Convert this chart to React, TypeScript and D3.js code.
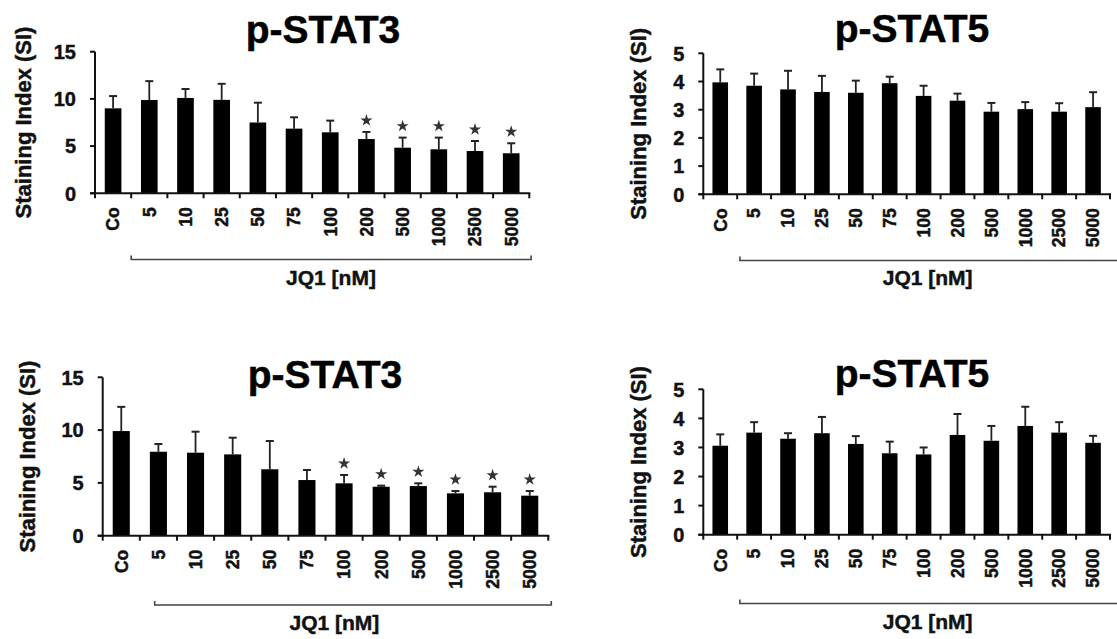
import React from "react";
import * as d3 from "d3";

// ---------- data ----------
const categories = ["Co", "5", "10", "25", "50", "75", "100", "200", "500", "1000", "2500", "5000"];

const stat3TopMean = [9.0, 9.88, 10.1, 9.9, 7.5, 6.85, 6.46, 5.75, 4.83, 4.66, 4.48, 4.24];
const stat3TopErr = [1.3, 2.0, 0.95, 1.7, 2.1, 1.2, 1.24, 0.75, 1.07, 1.24, 1.06, 1.06];
const stat3TopStars = ["200", "500", "1000", "2500", "5000"];

const stat5TopMean = [3.97, 3.85, 3.72, 3.63, 3.6, 3.94, 3.49, 3.32, 2.93, 3.02, 2.93, 3.09];
const stat5TopErr = [0.46, 0.43, 0.66, 0.57, 0.43, 0.23, 0.36, 0.25, 0.31, 0.25, 0.3, 0.53];
const stat5TopStars: string[] = [];

const stat3BotMean = [9.91, 7.95, 7.86, 7.7, 6.29, 5.27, 4.96, 4.64, 4.7, 4.01, 4.11, 3.79];
const stat3BotErr = [2.29, 0.73, 1.99, 1.58, 2.68, 0.95, 0.79, 0.1, 0.26, 0.22, 0.53, 0.44];
const stat3BotStars = ["100", "200", "500", "1000", "2500", "5000"];

const stat5BotMean = [3.06, 3.51, 3.3, 3.49, 3.12, 2.8, 2.76, 3.43, 3.23, 3.74, 3.51, 3.16];
const stat5BotErr = [0.39, 0.36, 0.19, 0.56, 0.27, 0.4, 0.24, 0.72, 0.51, 0.66, 0.36, 0.24];
const stat5BotStars: string[] = [];

const stat3Ticks = [0, 5, 10, 15];
const stat5Ticks = [0, 1, 2, 3, 4, 5];

const yAxisTitle = "Staining Index (SI)";
const xAxisTitle = "JQ1 [nM]";

// ---------- layout ----------
const W = 1117;
const H = 639;
const FONT = "'Liberation Sans', Arial, Helvetica, sans-serif";

type Layout = {
  x0: number; x1: number; yTop: number; yZero: number;
  titleX: number; titleY: number; ylabX: number;
  brStart: number; brEnd: number; brY: number; jqX: number; jqY: number;
};

const panels = [
  {
    title: "p-STAT3", mean: stat3TopMean, err: stat3TopErr, stars: stat3TopStars, ticks: stat3Ticks,
    L: { x0: 95, x1: 529.3, yTop: 51.7, yZero: 193.3, titleX: 323, titleY: 43, ylabX: 23,
      brStart: 1.0, brEnd: 12.05, brY: 259.5, jqX: 6.52, jqY: 285 } as Layout,
  },
  {
    title: "p-STAT5", mean: stat5TopMean, err: stat5TopErr, stars: stat5TopStars, ticks: stat5Ticks,
    L: { x0: 703.3, x1: 1110, yTop: 53.3, yZero: 194.3, titleX: 912, titleY: 42, ylabX: 638,
      brStart: 1.08, brEnd: 12.5, brY: 260.5, jqX: 6.62, jqY: 285 } as Layout,
  },
  {
    title: "p-STAT3", mean: stat3BotMean, err: stat3BotErr, stars: stat3BotStars, ticks: stat3Ticks,
    L: { x0: 102.7, x1: 548.3, yTop: 377.3, yZero: 535.7, titleX: 325, titleY: 388, ylabX: 27,
      brStart: 1.4, brEnd: 12.08, brY: 605, jqX: 6.24, jqY: 630 } as Layout,
  },
  {
    title: "p-STAT5", mean: stat5BotMean, err: stat5BotErr, stars: stat5BotStars, ticks: stat5Ticks,
    L: { x0: 703.3, x1: 1110, yTop: 389.3, yZero: 534.7, titleX: 912, titleY: 387, ylabX: 638,
      brStart: 1.08, brEnd: 12.5, brY: 603.5, jqX: 6.62, jqY: 629 } as Layout,
  },
];

const starPath = d3.symbol().type(d3.symbolStar).size(46)() as string;

function Panel({ p }: { p: (typeof panels)[number] }) {
  const L = p.L;
  const x = d3.scaleBand<string>().domain(categories).range([L.x0, L.x1]).paddingInner(0.54).paddingOuter(0.27);
  const yMax = p.ticks[p.ticks.length - 1];
  const y = d3.scaleLinear().domain([0, yMax]).range([L.yZero, L.yTop]);
  const step = x.step();
  const bw = x.bandwidth();
  const boundaries = d3.range(categories.length + 1).map((i) => L.x0 + i * step);
  const bx0 = L.x0 + L.brStart * step;
  const bx1 = Math.min(L.x0 + L.brEnd * step, W + 5);
  const axisColor = "#111";
  const heavy = { stroke: "#111", strokeWidth: 0.45 };
  return (
    <g>
      <text x={L.titleX} y={L.titleY} textAnchor="middle" fontFamily={FONT} fontWeight="bold" fontSize={39} fill="#000" stroke="#000" strokeWidth={0.5}>
        {p.title}
      </text>
      <text
        transform={`translate(${L.ylabX},${(L.yTop + L.yZero) / 2}) rotate(-90)`}
        textAnchor="middle" dy="0.35em" fontFamily={FONT} fontWeight="bold" fontSize={22} fill="#111" {...heavy}
      >
        {yAxisTitle}
      </text>
      {/* bars */}
      {categories.map((c, i) => {
        const cx = (x(c) as number) + bw / 2;
        const top = y(p.mean[i]);
        const et = y(p.mean[i] + p.err[i]);
        return (
          <g key={c}>
            <line x1={cx} x2={cx} y1={top} y2={et} stroke="#222" strokeWidth={1.8} />
            <line x1={cx - 4} x2={cx + 4} y1={et} y2={et} stroke="#222" strokeWidth={2} />
            <rect x={x(c)} y={top} width={bw} height={L.yZero - top} fill="#000" />
            {p.stars.includes(c) && (
              <path d={starPath} transform={`translate(${cx},${et - 11.5})`} fill="#333" />
            )}
          </g>
        );
      })}
      {/* y axis */}
      <line x1={L.x0} x2={L.x0} y1={L.yZero + 1} y2={L.yTop} stroke={axisColor} strokeWidth={2} />
      {p.ticks.map((t) => (
        <g key={t}>
          <line x1={L.x0 - 5} x2={L.x0} y1={y(t)} y2={y(t)} stroke={axisColor} strokeWidth={2} />
          <text x={L.x0 - 19} y={y(t)} dy="0.36em" textAnchor="end" fontFamily={FONT} fontWeight="bold" fontSize={20} fill="#111" {...heavy}>
            {t}
          </text>
        </g>
      ))}
      {/* x axis */}
      <line x1={L.x0 - 5} x2={L.x1 + 1} y1={L.yZero} y2={L.yZero} stroke={axisColor} strokeWidth={2} />
      {boundaries.map((bx, i) => (
        <line key={i} x1={bx} x2={bx} y1={L.yZero} y2={L.yZero + 5} stroke={axisColor} strokeWidth={2} />
      ))}
      {categories.map((c) => (
        <text
          key={c}
          transform={`translate(${(x(c) as number) + bw / 2},${L.yZero + 14}) rotate(-90)`}
          textAnchor="end" dy="0.36em" fontFamily={FONT} fontWeight="bold" fontSize={17.5} fill="#111" {...heavy}
        >
          {c}
        </text>
      ))}
      {/* bracket */}
      <path
        d={`M${bx0},${L.brY - 4}V${L.brY}H${bx1}V${L.brY - 4}`}
        fill="none" stroke="#444" strokeWidth={1.6}
      />
      <text x={L.x0 + L.jqX * step} y={L.jqY} textAnchor="middle" fontFamily={FONT} fontWeight="bold" fontSize={21} fill="#111" {...heavy}>
        {xAxisTitle}
      </text>
    </g>
  );
}

export default function App() {
  return (
    <svg
      width={W}
      height={H}
      viewBox={`0 0 ${W} ${H}`}
      style={{ position: "absolute", left: 0, top: 0, display: "block", background: "#fff" }}
    >
      <rect width={W} height={H} fill="#fff" />
      {panels.map((p, i) => (
        <Panel key={i} p={p} />
      ))}
    </svg>
  );
}
